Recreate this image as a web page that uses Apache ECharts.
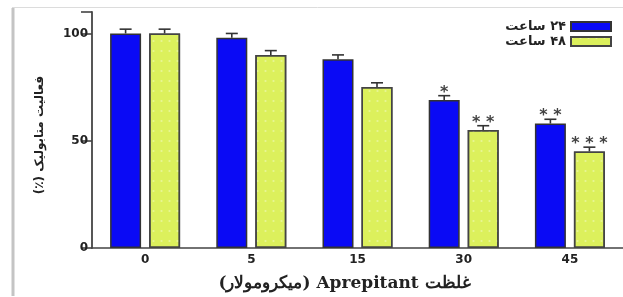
<!DOCTYPE html>
<html>
<head>
<meta charset="utf-8">
<script src="https://cdn.jsdelivr.net/npm/echarts@6/dist/echarts.min.js"></script>
<style>
html,body{margin:0;padding:0;background:#fff;}
#c{width:623px;height:297px;}
</style>
</head>
<body>
<div id="c"></div>
<script>
var categories = ['0', '5', '15', '30', '45'];
var seriesNames = ['\u200F۲۴ ساعت', '\u200F۴۸ ساعت'];
var values24 = [100, 98, 88, 69, 58];
var values48 = [100, 90, 75, 55, 45];
var err24 = [2, 2, 2, 2, 2];
var err48 = [2, 2, 2, 2, 2];
var sig24 = ['', '', '', '*', '* *'];
var sig48 = ['', '', '', '* *', '* * *'];
var yTicks = [0, 50, 100];

var BAR_W = 31, GAP = 8;
var OFFSET = (BAR_W + GAP) / 2;

function errSeries(vals, errs, sigs, dir) {
  var data = vals.map(function (v, i) { return [i, v, errs[i], sigs[i]]; });
  return {
    type: 'custom',
    silent: true,
    z: 5,
    data: data,
    renderItem: function (params, api) {
      var i = api.value(0), v = api.value(1), e = api.value(2);
      var s = data[params.dataIndex][3];
      var base = api.coord([i, v]);
      var top = api.coord([i, v + e]);
      var x = base[0] + dir * OFFSET;
      var children = [
        {type: 'line', shape: {x1: x, y1: base[1], x2: x, y2: top[1]}, style: {stroke: '#333', lineWidth: 1.6}},
        {type: 'line', shape: {x1: x - 6, y1: top[1], x2: x + 6, y2: top[1]}, style: {stroke: '#333', lineWidth: 1.6}}
      ];
      if (s) {
        children.push({type: 'text', style: {text: s, x: x, y: top[1] + 5, align: 'center', verticalAlign: 'bottom',
          fill: '#444', font: 'bold 16px DejaVu Sans'}});
      }
      return {type: 'group', children: children};
    }
  };
}

var chart = echarts.init(document.getElementById('c'), null, {renderer: 'canvas'});
chart.setOption({
  animation: false,
  backgroundColor: '#fff',
  graphic: [
    {type: 'line', shape: {x1: 13, y1: 8, x2: 13, y2: 296}, style: {stroke: '#c4c4c4', lineWidth: 3}},
    {type: 'line', shape: {x1: 12, y1: 7.5, x2: 623, y2: 7.5}, style: {stroke: '#dcdcdc', lineWidth: 1}}
  ],
  legend: {
    data: seriesNames,
    orient: 'vertical',
    right: 6,
    top: 15,
    align: 'right',
    icon: 'rect',
    itemWidth: 40,
    itemHeight: 9,
    itemGap: 2,
    textStyle: {fontFamily: 'DejaVu Sans', fontSize: 13, fontWeight: 'bold', color: '#222'}
  },
  grid: {left: 92, right: -2, top: 12, bottom: 48},
  xAxis: {
    type: 'category',
    data: categories,
    name: '\u202Bغلظت Aprepitant (میکرومولار)\u202C',
    nameLocation: 'middle',
    nameGap: 27,
    nameTextStyle: {fontFamily: 'DejaVu Serif', fontSize: 17, fontWeight: 'bold', color: '#222', padding: [0, 26, 0, 0]},
    axisLine: {lineStyle: {color: '#444', width: 1.6}},
    axisTick: {alignWithLabel: true, length: 6, lineStyle: {color: '#333', width: 1.6}},
    axisLabel: {fontFamily: 'DejaVu Sans', fontSize: 12, fontWeight: 'bold', color: '#222', margin: 6}
  },
  yAxis: {
    type: 'value',
    min: 0,
    max: 110,
    interval: 50,
    name: '\u202Bفعالیت متابولیک (٪)\u202C',
    nameLocation: 'middle',
    nameRotate: 90,
    nameGap: 46,
    nameTextStyle: {fontFamily: 'DejaVu Sans', fontSize: 12, fontWeight: 'bold', color: '#222', padding: [0, 10, 0, 0]},
    splitLine: {show: false},
    axisLine: {show: true, lineStyle: {color: '#444', width: 1.8}},
    axisTick: {show: true, length: 11, lineStyle: {color: '#444', width: 1.6}},
    axisLabel: {fontFamily: 'DejaVu Sans', fontSize: 12, fontWeight: 'bold', color: '#222', margin: 4,
      formatter: function (v) { return yTicks.indexOf(v) >= 0 ? String(v) : ''; }}
  },
  series: [
    {
      name: seriesNames[0],
      type: 'bar',
      data: values24,
      barWidth: BAR_W,
      barGap: (GAP / BAR_W * 100).toFixed(1) + '%',
      itemStyle: {color: '#0a0af5', borderColor: '#333', borderWidth: 1.5}
    },
    {
      name: seriesNames[1],
      type: 'bar',
      data: values48,
      barWidth: BAR_W,
      itemStyle: {color: '#dcf05c', borderColor: '#444', borderWidth: 1.5,
        decal: {symbol: 'rect', symbolSize: 0.6, color: 'rgba(255,255,255,0.55)', dashArrayX: [[3, 5]], dashArrayY: [2, 8], rotation: 0}}
    },
    errSeries(values24, err24, sig24, -1),
    errSeries(values48, err48, sig48, 1)
  ]
});
</script>
</body>
</html>
